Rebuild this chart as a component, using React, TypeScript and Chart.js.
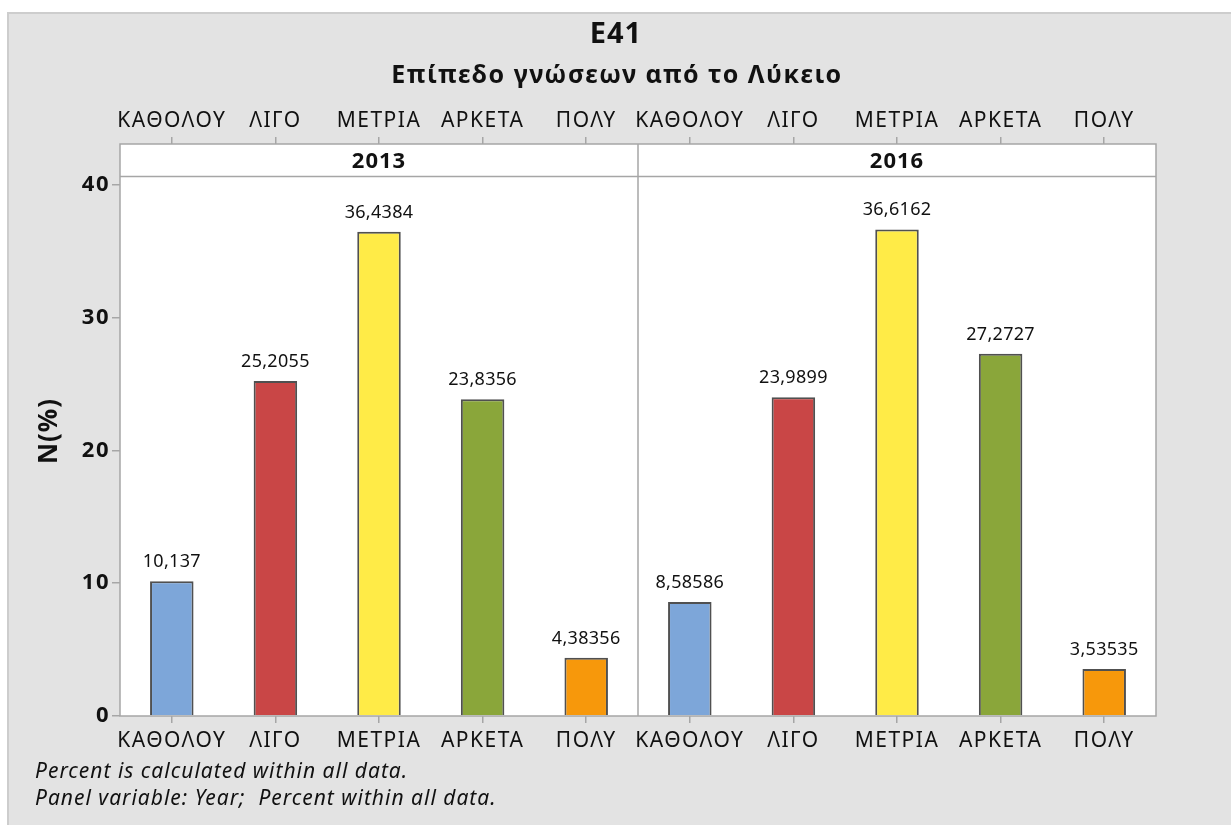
import React, { useEffect, useRef } from "react";
import { Chart, registerables } from "chart.js";

Chart.register(...registerables);

const TITLE = "E41";
const SUBTITLE = "Επίπεδο γνώσεων από το Λύκειο";
const Y_TITLE = "N(%)";
const YEARS = ["2013", "2016"];
const CATEGORIES = ["ΚΑΘΟΛΟΥ", "ΛΙΓΟ", "ΜΕΤΡΙΑ", "ΑΡΚΕΤΑ", "ΠΟΛΥ"];
const VALUES_2013 = [10.137, 25.2055, 36.4384, 23.8356, 4.38356];
const VALUES_2016 = [8.58586, 23.9899, 36.6162, 27.2727, 3.53535];
const LABELS_2013 = ["10,137", "25,2055", "36,4384", "23,8356", "4,38356"];
const LABELS_2016 = ["8,58586", "23,9899", "36,6162", "27,2727", "3,53535"];
const COLORS = ["#7DA6D9", "#C94646", "#FFEB47", "#8AA63A", "#F7980B"];
const Y_TICKS = [0, 10, 20, 30, 40];
const FOOTNOTES = [
  "Percent is calculated within all data.",
  "Panel variable: Year;  Percent within all data.",
];

const FONT = "'Noto Sans', 'Open Sans', sans-serif";

export default function App() {
  const ref = useRef<HTMLCanvasElement | null>(null);

  useEffect(() => {
    const canvas = ref.current;
    if (!canvas) return;
    const labels = [...CATEGORIES, ...CATEGORIES];
    const values = [...VALUES_2013, ...VALUES_2016];
    const valueLabels = [...LABELS_2013, ...LABELS_2016];
    const colors = [...COLORS, ...COLORS];

    const STRIP_H = 32.5;

    const panelPlugin = {
      id: "panelPlugin",
      beforeDraw(chart: any) {
        const { ctx, chartArea: a, width, height } = chart;
        ctx.save();
        ctx.fillStyle = "#ffffff";
        ctx.fillRect(0, 0, width, height);
        ctx.fillStyle = "#E3E3E3";
        ctx.fillRect(8, 13, width - 8, height - 13);
        ctx.strokeStyle = "#CDCDCD";
        ctx.lineWidth = 2;
        ctx.beginPath();
        ctx.moveTo(8, height);
        ctx.lineTo(8, 13);
        ctx.lineTo(width, 13);
        ctx.stroke();
        ctx.fillStyle = "#ffffff";
        ctx.fillRect(a.left, a.top, a.right - a.left, a.bottom - a.top);
        ctx.restore();
        (ctx as any).letterSpacing = "1.5px";
      },
      afterDraw(chart: any) {
        const { ctx, chartArea: a } = chart;
        const xs = chart.scales.x;
        const mid = (xs.getPixelForValue(4) + xs.getPixelForValue(5)) / 2;
        ctx.save();
        // frame, strip, divider
        ctx.strokeStyle = "#A6A6A6";
        ctx.lineWidth = 1.5;
        ctx.strokeRect(a.left, a.top, a.right - a.left, a.bottom - a.top);
        ctx.beginPath();
        ctx.moveTo(a.left, a.top + STRIP_H);
        ctx.lineTo(a.right, a.top + STRIP_H);
        ctx.moveTo(mid, a.top);
        ctx.lineTo(mid, a.bottom);
        ctx.stroke();
        // strip labels
        ctx.fillStyle = "#111";
        ctx.letterSpacing = "1px";
        ctx.font = `bold 22px ${FONT}`;
        ctx.textAlign = "center";
        ctx.textBaseline = "middle";
        ctx.fillText(YEARS[0], (a.left + mid) / 2, a.top + STRIP_H / 2 + 1);
        ctx.fillText(YEARS[1], (mid + a.right) / 2, a.top + STRIP_H / 2 + 1);
        // value labels
        const meta = chart.getDatasetMeta(0);
        ctx.letterSpacing = "0.3px";
        ctx.font = `18px ${FONT}`;
        ctx.textBaseline = "alphabetic";
        meta.data.forEach((bar: any, i: number) => {
          ctx.fillText(valueLabels[i], bar.x, bar.y - 14);
        });
        // titles
        ctx.letterSpacing = "1px";
        ctx.font = `bold 29px ${FONT}`;
        ctx.textBaseline = "middle";
        ctx.fillText(TITLE, 616, 35);
        ctx.letterSpacing = "1.5px";
        ctx.font = `bold 25px ${FONT}`;
        ctx.fillText(SUBTITLE, 617, 76);
        // y title
        ctx.save();
        ctx.translate(50, 431);
        ctx.rotate(-Math.PI / 2);
        ctx.letterSpacing = "1px";
        ctx.font = `bold 26px ${FONT}`;
        ctx.fillText(Y_TITLE, 0, 0);
        ctx.restore();
        // footnotes
        ctx.letterSpacing = "1px";
        ctx.font = `italic 21px ${FONT}`;
        ctx.textAlign = "left";
        ctx.fillText(FOOTNOTES[0], 35, 772);
        ctx.fillText(FOOTNOTES[1], 35, 799);
        ctx.restore();
        ctx.letterSpacing = "0px";
      },
    };

    const catFont = { family: FONT, size: 21 };

    const chart = new Chart(canvas, {
      type: "bar",
      data: {
        labels,
        datasets: [
          {
            data: values,
            backgroundColor: colors,
            borderColor: "#505050",
            borderWidth: 2,
            borderSkipped: "bottom",
            barPercentage: 0.42,
            categoryPercentage: 1,
          },
        ],
      },
      options: {
        animation: false,
        responsive: false,
        devicePixelRatio: 1,
        layout: { padding: { left: 0, top: 0, right: 75, bottom: 0 } },
        plugins: {
          legend: { display: false },
          tooltip: { enabled: false },
          title: { display: false },
        },
        scales: {
          x: {
            position: "bottom",
            offset: true,
            grid: {
              offset: false,
              drawOnChartArea: false,
              tickLength: 7,
              color: "#A6A6A6",
              lineWidth: 1.5,
            },
            border: { display: false },
            ticks: { color: "#111", font: catFont, padding: 5, maxRotation: 0, autoSkip: false },
            afterFit(scale: any) {
              scale.height = 825 - 716;
            },
          },
          xTop: {
            type: "category",
            position: "top",
            labels,
            offset: true,
            grid: {
              offset: false,
              drawOnChartArea: false,
              tickLength: 7,
              color: "#A6A6A6",
              lineWidth: 1.5,
            },
            border: { display: false },
            ticks: { color: "#111", font: catFont, padding: 3, maxRotation: 0, autoSkip: false },
            afterFit(scale: any) {
              scale.height = 144;
            },
          },
          y: {
            min: 0,
            max: 43.05,
            grid: {
              drawOnChartArea: false,
              tickLength: 8,
              color: "#A6A6A6",
              lineWidth: 1.5,
            },
            border: { display: false },
            ticks: {
              stepSize: 10,
              color: "#111",
              font: { family: FONT, size: 22, weight: "bold" },
              padding: 2,
            },
            afterBuildTicks(scale: any) {
              scale.ticks = Y_TICKS.map((v) => ({ value: v }));
            },
            afterFit(scale: any) {
              scale.width = 120;
            },
          },
        },
      },
      plugins: [panelPlugin],
    } as any);

    return () => chart.destroy();
  }, []);

  return (
    <div style={{ position: "fixed", left: 0, top: 0, width: 1231, height: 825 }}>
      <canvas ref={ref} width={1231} height={825} style={{ display: "block" }} />
    </div>
  );
}
